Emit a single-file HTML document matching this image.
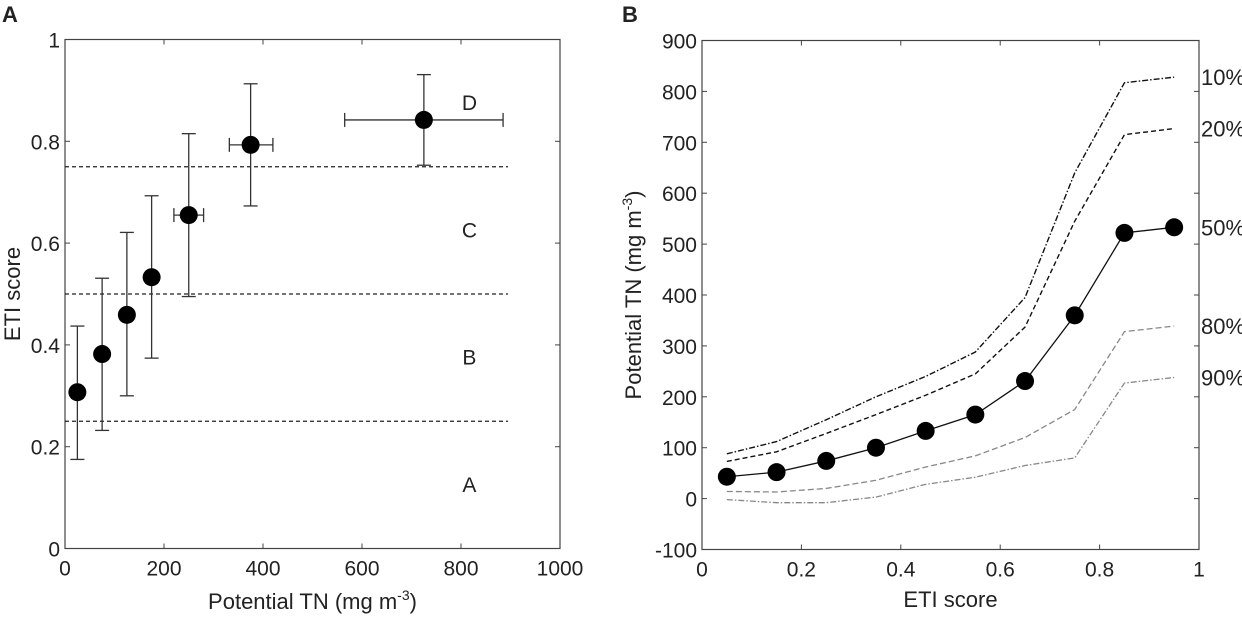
<!DOCTYPE html>
<html><head><meta charset="utf-8"><style>
html,body{margin:0;padding:0;background:#fff}
svg text{font-family:"Liberation Sans",Arial,sans-serif;fill:#222}
</style></head><body>
<svg id="chart" width="1242" height="615" viewBox="0 0 1242 615" xmlns="http://www.w3.org/2000/svg">
<text x="2" y="22" font-size="22" font-weight="bold">A</text>
<text x="622" y="22" font-size="22" font-weight="bold">B</text>
<g id="pa"></g>
<g id="pb"></g>
</svg>
<script>
// Panel A data
const aX = [25, 75, 125, 175, 250, 375, 725];
const aY = [0.307, 0.382, 0.459, 0.533, 0.655, 0.793, 0.842];
const aYLo = [0.175, 0.232, 0.300, 0.374, 0.495, 0.673, 0.753];
const aYHi = [0.437, 0.531, 0.621, 0.693, 0.815, 0.913, 0.931];
const aXLo = [null, null, null, null, 220, 332, 565];
const aXHi = [null, null, null, null, 280, 420, 885];
const aThresholds = [0.25, 0.5, 0.75];
const aClasses = ["A", "B", "C", "D"];
const aClassY = [0.125, 0.375, 0.625, 0.875];
const aXTicks = [0, 200, 400, 600, 800, 1000];
const aYTicks = [0, 0.2, 0.4, 0.6, 0.8, 1];
// Panel B data
const bX = [0.05, 0.15, 0.25, 0.35, 0.45, 0.55, 0.65, 0.75, 0.85, 0.95];
const b10 = [88, 112, 155, 200, 240, 288, 395, 640, 817, 828];
const b20 = [73, 92, 128, 165, 203, 245, 337, 545, 715, 727];
const b50 = [43, 52, 74, 100, 133, 165, 231, 360, 522, 533];
const b80 = [14, 13, 20, 36, 62, 84, 120, 175, 328, 339];
const b90 = [-2, -8, -8, 3, 28, 42, 65, 80, 227, 238];
const bXTicks = [0, 0.2, 0.4, 0.6, 0.8, 1];
const bYTicks = [-100, 0, 100, 200, 300, 400, 500, 600, 700, 800, 900];

const NS = "http://www.w3.org/2000/svg";
function mk(parent, tag, attrs, text) {
  const e = document.createElementNS(NS, tag);
  for (const k in attrs) e.setAttribute(k, attrs[k]);
  if (text !== undefined) e.textContent = text;
  parent.appendChild(e);
  return e;
}
const FS = 21;

// ---- Panel A ----
const pa = document.getElementById("pa");
const aL = 65, aR = 560, aT = 39.5, aB = 548.5;
const ax = v => aL + (v - 0) / 1000 * (aR - aL);
const ay = v => aB - v * (aB - aT);
let r = mk(pa, "rect", {x: aL, y: aT, width: aR - aL, height: aB - aT, fill: "none", stroke: "#444", "stroke-width": 1.2});


aXTicks.forEach(t => {
  const x = ax(t);
  mk(pa, "line", {x1: x, x2: x, y1: aB, y2: aB - 5, stroke: "#444"});
  mk(pa, "line", {x1: x, x2: x, y1: aT, y2: aT + 5, stroke: "#444"});
  const tx = mk(pa, "text", {x: x, y: aB + 27, "font-size": FS, "text-anchor": "middle"}, String(t));
  
  
});
aYTicks.forEach(t => {
  const y = ay(t);
  mk(pa, "line", {x1: aL, x2: aL + 5, y1: y, y2: y, stroke: "#444"});
  mk(pa, "line", {x1: aR, x2: aR - 5, y1: y, y2: y, stroke: "#444"});
  const tx = mk(pa, "text", {x: aL - 5, y: y + 8, "font-size": FS, "text-anchor": "end"}, String(t));
  
  
});
aThresholds.forEach(t => {
  const l = mk(pa, "line", {x1: ax(0), x2: ax(895), y1: ay(t), y2: ay(t), stroke: "#222", "stroke-width": 1.3, "stroke-dasharray": "4,3"});
  
  
});
aClasses.forEach((c, i) => {
  const tx = mk(pa, "text", {x: ax(817), y: ay(aClassY[i]) + 7, "font-size": FS, "text-anchor": "middle"}, c);
  
  
});
aX.forEach((xv, i) => {
  const x = ax(xv), y = ay(aY[i]);
  const g = mk(pa, "g", {});
  
  
  mk(g, "line", {x1: x, x2: x, y1: ay(aYLo[i]), y2: ay(aYHi[i]), stroke: "#333", "stroke-width": 1.3});
  mk(g, "line", {x1: x - 7, x2: x + 7, y1: ay(aYLo[i]), y2: ay(aYLo[i]), stroke: "#333", "stroke-width": 1.3});
  mk(g, "line", {x1: x - 7, x2: x + 7, y1: ay(aYHi[i]), y2: ay(aYHi[i]), stroke: "#333", "stroke-width": 1.3});
  if (aXLo[i] !== null) {
    mk(g, "line", {x1: ax(aXLo[i]), x2: ax(aXHi[i]), y1: y, y2: y, stroke: "#333", "stroke-width": 1.3});
    mk(g, "line", {x1: ax(aXLo[i]), x2: ax(aXLo[i]), y1: y - 7, y2: y + 7, stroke: "#333", "stroke-width": 1.3});
    mk(g, "line", {x1: ax(aXHi[i]), x2: ax(aXHi[i]), y1: y - 7, y2: y + 7, stroke: "#333", "stroke-width": 1.3});
  }
  mk(g, "circle", {cx: x, cy: y, r: 9, fill: "#000"});
});
let t1 = mk(pa, "text", {x: (aL + aR) / 2, y: 609, "font-size": 22, "text-anchor": "middle"});
t1.innerHTML = 'Potential TN (mg m<tspan dy="-9" font-size="14">-3</tspan><tspan dy="9">)</tspan>';


let t2 = mk(pa, "text", {x: 0, y: 0, "font-size": 22, "text-anchor": "middle", transform: "translate(20," + ((aT + aB) / 2) + ") rotate(-90)"}, "ETI score");



// ---- Panel B ----
const pb = document.getElementById("pb");
const bL = 702, bR = 1199, bT = 40.5, bB = 549.5;
const bx = v => bL + v * (bR - bL);
const by = v => bB - (v + 100) / 1000 * (bB - bT);
r = mk(pb, "rect", {x: bL, y: bT, width: bR - bL, height: bB - bT, fill: "none", stroke: "#444", "stroke-width": 1.2});


bXTicks.forEach(t => {
  const x = bx(t);
  mk(pb, "line", {x1: x, x2: x, y1: bB, y2: bB - 5, stroke: "#444"});
  mk(pb, "line", {x1: x, x2: x, y1: bT, y2: bT + 5, stroke: "#444"});
  const tx = mk(pb, "text", {x: x, y: bB + 27, "font-size": FS, "text-anchor": "middle"}, String(t));
  
  
});
bYTicks.forEach(t => {
  const y = by(t);
  mk(pb, "line", {x1: bL, x2: bL + 5, y1: y, y2: y, stroke: "#444"});
  mk(pb, "line", {x1: bR, x2: bR - 5, y1: y, y2: y, stroke: "#444"});
  const tx = mk(pb, "text", {x: bL - 5, y: y + 8, "font-size": FS, "text-anchor": "end"}, String(t));
  
  
});
function series(vals, stroke, dash, w, name, label) {
  const pts = vals.map((v, i) => bx(bX[i]) + "," + by(v)).join(" ");
  const p = mk(pb, "polyline", {points: pts, fill: "none", stroke: stroke, "stroke-width": w, "stroke-dasharray": dash});
  
  
  const tx = mk(pb, "text", {x: bR + 2, y: by(vals[vals.length - 1]) + 8, "font-size": 22}, label);
  
  
}
series(b10, "#111", "6,2,1.5,2", 1.4, "line-10pct", "10%");
series(b20, "#111", "5,3", 1.4, "line-20pct", "20%");
series(b80, "#888", "6,3", 1.3, "line-80pct", "80%");
series(b90, "#888", "6,2,1.5,2", 1.3, "line-90pct", "90%");
series(b50, "#111", "", 1.3, "line-50pct", "50%");
bX.forEach((xv, i) => {
  const c = mk(pb, "circle", {cx: bx(xv), cy: by(b50[i]), r: 9, fill: "#000"});
  
  
});
t1 = mk(pb, "text", {x: (bL + bR) / 2, y: 607, "font-size": 22, "text-anchor": "middle"}, "ETI score");


t2 = mk(pb, "text", {x: 0, y: 0, "font-size": 22, "text-anchor": "middle", transform: "translate(641," + ((bT + bB) / 2) + ") rotate(-90)"});
t2.innerHTML = 'Potential TN (mg m<tspan dy="-9" font-size="14">-3</tspan><tspan dy="9">)</tspan>';


</script>
</body></html>
